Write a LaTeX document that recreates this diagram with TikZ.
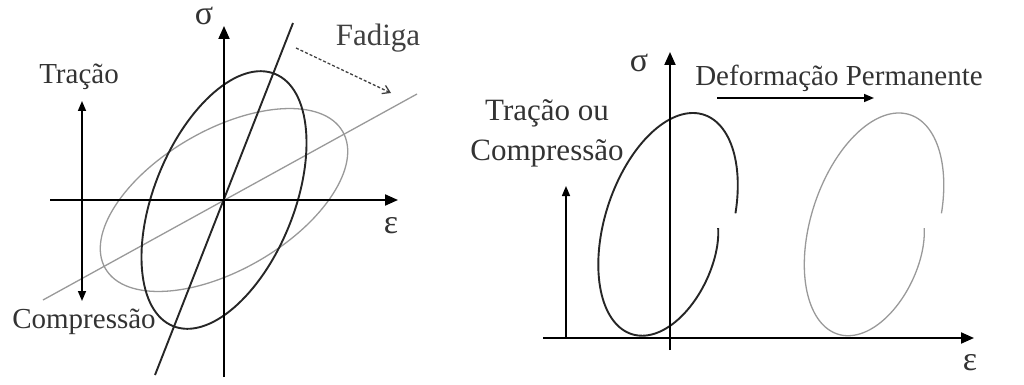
\documentclass[tikz,border=0pt]{standalone}
\usepackage{fontspec}
\setmainfont{Liberation Serif}
\usepackage{tikz}
\usetikzlibrary{arrows.meta}

\begin{document}
\begin{tikzpicture}[x=1pt, y=-1pt,
    axis/.style={line width=2pt, -{Triangle[length=13pt,width=11pt]}},
    thinarrow/.style={line width=1.5pt, -{Triangle[length=10pt,width=8pt]}},
    blackline/.style={line width=1.9pt, black!85},
    grayline/.style={line width=1.3pt, black!40},
    lbl/.style={text=black!80, inner sep=0pt, font=\fontsize{29}{34}\selectfont},
    greek/.style={text=black!80, inner sep=0pt, anchor=base, font=\fontsize{34}{38}\selectfont},
    biglbl/.style={text=black!80, inner sep=0pt, font=\fontsize{31}{40}\selectfont}]
  \useasboundingbox (0,0) rectangle (1024,385);
  % left picture: two loops through the origin O
  \coordinate (O) at (224,200);
  \coordinate (Ew) at (50,200);   \coordinate (Ee) at (398,200);
  \coordinate (Ss) at (224,377);  \coordinate (Sn) at (224,26);
  \coordinate (Ls) at (155,375);  \coordinate (Ln) at (293,23);   % steep secant
  \coordinate (Gs) at (43,300);   \coordinate (Gn) at (417,94);   % flat secant
  \draw[grayline, rotate around={30:(O)}] (O) ellipse (137 and 70);
  \draw[grayline] (Gs) -- (Gn);
  \draw[blackline, rotate around={68:(O)}] (O) ellipse (136 and 70);
  \draw[blackline] (Ls) -- (Ln);
  \draw[axis] (Ew) -- (Ee);
  \draw[axis] (Ss) -- (Sn);
  \node[greek] (sig1) at (204,25) {σ};
  \node[greek] (eps1) at (391,233) {ε};
  % load direction
  \node[lbl] (trac) at (79,77) {Tração};
  \node[lbl] (comp) at (84,322) {Compressão};
  \coordinate (Tn) at (82,101);  \coordinate (Ts) at (82,301);
  \draw[line width=1.5pt, {Triangle[length=10pt,width=8pt]}-{Triangle[length=10pt,width=8pt]}] (Tn) -- (Ts);
  % fatigue: slope drops
  \node[font=\fontsize{31}{36}\selectfont, text=black!75, inner sep=0pt] (fad) at (378,38) {Fadiga};
  \coordinate (Fa) at (296,48);  \coordinate (Fb) at (391,93);
  \draw[line width=1.3pt, black!75, dash pattern=on 3pt off 2pt, -{Straight Barb[length=7pt,width=9pt]}] (Fa) -- (Fb);

  % right picture: loops open up, shift along strain
  \coordinate (Rw) at (543,338);  \coordinate (Re) at (974,338);
  \coordinate (Rs) at (670,350);  \coordinate (Rn) at (670,52);
  \foreach \cx/\sty in {668/blackline, 874/grayline}{
    \draw[\sty, shift={(\cx,225)}] plot[domain=-74:278, samples=140, smooth]
      ({(1-0.22*exp(-(278-\x)/30))*(35.8*cos(\x)-59.9*sin(\x))},
       {-(1-0.22*exp(-(278-\x)/30))*(110.3*cos(\x)+19.5*sin(\x))});
  }
  \draw[axis] (Rw) -- (Re);
  \draw[axis] (Rs) -- (Rn);
  \node[greek] (sig2) at (639,72) {σ};
  \node[greek] (eps2) at (970,370) {ε};
  \node[lbl] (perm) at (839,78) {Deformação Permanente};
  \coordinate (Pa) at (717,98);  \coordinate (Pb) at (874,98);
  \draw[thinarrow] (Pa) -- (Pb);
  \node[biglbl, align=center] (tc) at (547,133) {Tração ou\\Compressão};
  \coordinate (Va) at (566,338);  \coordinate (Vb) at (566,186);
  \draw[thinarrow] (Va) -- (Vb);
\end{tikzpicture}
\end{document}
